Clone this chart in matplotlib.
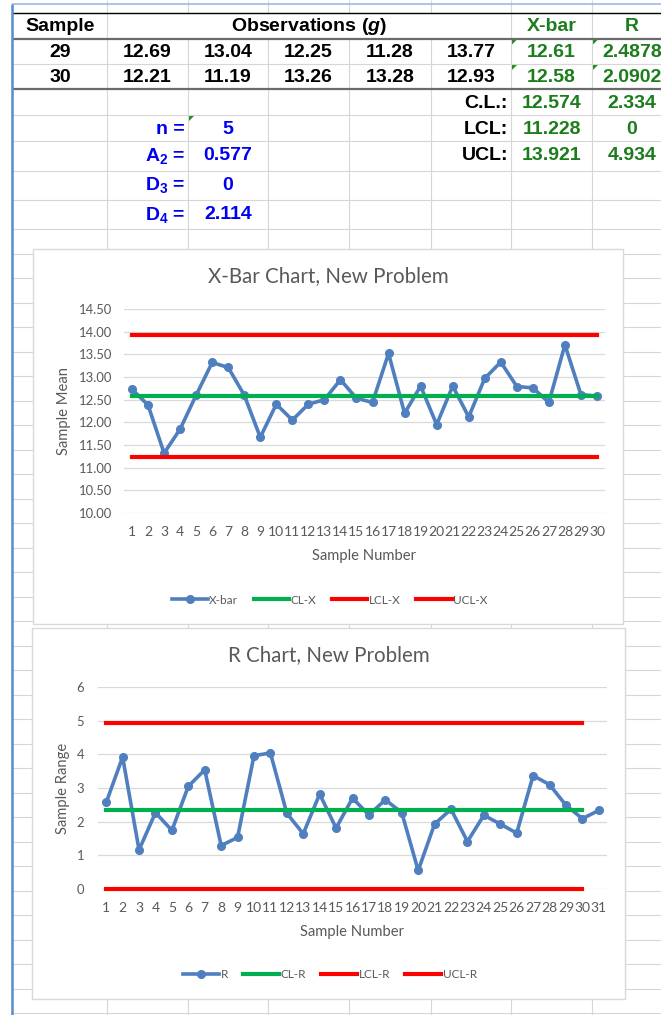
import numpy as np
import matplotlib
matplotlib.use('Agg')
import matplotlib.pyplot as plt
from matplotlib.patches import Rectangle, Polygon

# ---- data ----
samples_x = list(range(1, 31))
xbar = [12.73, 12.38, 11.32, 11.85, 12.60, 13.32, 13.21, 12.60, 11.67, 12.40,
        12.05, 12.40, 12.50, 12.94, 12.53, 12.44, 13.52, 12.20, 12.80, 11.95,
        12.80, 12.12, 12.97, 13.33, 12.79, 12.76, 12.44, 13.71, 12.61, 12.58]
samples_r = list(range(1, 32))
ranges = [2.57, 3.92, 1.16, 2.27, 1.74, 3.05, 3.54, 1.29, 1.53, 3.96,
          4.04, 2.25, 1.64, 2.82, 1.81, 2.70, 2.20, 2.65, 2.27, 0.55,
          1.93, 2.37, 1.41, 2.19, 1.93, 1.66, 3.37, 3.10, 2.4878, 2.0902, 2.334]
xbar_ticks = [10.0, 10.5, 11.0, 11.5, 12.0, 12.5, 13.0, 13.5, 14.0, 14.5]
r_ticks = [0, 1, 2, 3, 4, 5, 6]

cl_x, lcl_x, ucl_x = 12.574, 11.228, 13.921
cl_r, lcl_r, ucl_r = 2.334, 0, 4.934

table_samples = [29, 30]
table_obs = [[12.69, 13.04, 12.25, 11.28, 13.77],
             [12.21, 11.19, 13.26, 13.28, 12.93]]
table_xbar = ['12.61', '12.58']
table_r = ['2.4878', '2.0902']
const_names = ['n =', r'A$_2$ =', r'D$_3$ =', r'D$_4$ =']
const_values = ['5', '0.577', '0', '2.114']

# ---- styling ----
W, H = 661, 1015
plt.rcParams['mathtext.fontset'] = 'custom'
plt.rcParams['mathtext.rm'] = 'Liberation Sans:bold'
plt.rcParams['mathtext.it'] = 'Liberation Sans:italic:bold'
plt.rcParams['mathtext.bf'] = 'Liberation Sans:bold'
plt.rcParams['font.family'] = 'Lato'

blue = '#4F7FBE'
green = '#00B050'
red = '#FF0000'
gray_txt = '#595959'
cell_grid = '#D6D6D6'
sheet_green = '#1B7D1B'
sheet_blue = '#0000F0'

fig = plt.figure(figsize=(W / 100, H / 100), dpi=100)
bg = fig.add_axes([0, 0, 1, 1])
bg.set_xlim(0, W)
bg.set_ylim(H, 0)
bg.axis('off')

# spreadsheet cell grid
cols = [107, 188, 268, 349, 431, 511, 592]
for c in cols:
    if c in (188, 268, 349, 431):
        bg.vlines(c, 0, 12.7, color=cell_grid, lw=0.8)
        bg.vlines(c, 38.7, H, color=cell_grid, lw=0.8)
    else:
        bg.vlines(c, 0, H, color=cell_grid, lw=0.8)
rows = [64, 115, 141, 171, 200] + list(np.arange(229, H, 24.5))
bg.hlines(rows, 12, W, color=cell_grid, lw=0.8)
bg.hlines(12.7, 12, W, color='black', lw=1.0)
bg.hlines([38.7, 89], 12, W, color='#6A6A6A', lw=1.6)
bg.hlines(4, 12, W, color='#9DBBE3', lw=1.2)
bg.vlines(12, 4, H, color='#5B8BD0', lw=1.8)

tk = dict(family='Liberation Sans', fontweight='bold', fontsize=14, va='center')
bg.text(60, 26.5, 'Sample', color='black', ha='center', **tk)
bg.text(309, 26.5, r'Observations ($g$)', color='black', ha='center', **tk)
bg.text(551.5, 26.5, 'X-bar', color=sheet_green, ha='center', **tk)
bg.text(632, 26.5, 'R', color=sheet_green, ha='center', **tk)

obs_cx = [147.5, 228, 308.5, 390, 471]
for row_y, s, obs, xb, rr in zip([52, 77.5], table_samples, table_obs, table_xbar, table_r):
    bg.text(60, row_y, str(s), color='black', ha='center', **tk)
    for cx, v in zip(obs_cx, obs):
        bg.text(cx, row_y, f'{v:.2f}', color='black', ha='center', **tk)
    bg.text(551.5, row_y, xb, color=sheet_green, ha='center', **tk)
    bg.text(632, row_y, rr, color=sheet_green, ha='center', **tk)

for row_y, lab, vx, vr in zip([103, 129, 155.5], ['C.L.:', 'LCL:', 'UCL:'],
                              [cl_x, lcl_x, ucl_x], [cl_r, lcl_r, ucl_r]):
    bg.text(508, row_y, lab, color='black', ha='right', **tk)
    bg.text(551.5, row_y, f'{vx:.3f}', color=sheet_green, ha='center', **tk)
    bg.text(632, row_y, f'{vr:g}', color=sheet_green, ha='center', **tk)

for row_y, name, val in zip([129, 155.5, 185, 214.5], const_names, const_values):
    bg.text(185, row_y, name, color=sheet_blue, ha='right', **tk)
    bg.text(228, row_y, val, color=sheet_blue, ha='center', **tk)

# little green cell markers
for (cx, cy) in [(512, 39.5), (593, 39.5), (512, 65), (593, 65), (189, 116)]:
    bg.add_patch(Polygon([(cx, cy), (cx + 5, cy), (cx, cy + 5)], closed=True,
                         color='#1E8E1E', lw=0))

# chart boxes
bg.add_patch(Rectangle((33, 249), 590, 375, facecolor='white', edgecolor='#D9D9D9', lw=1, zorder=5))
bg.add_patch(Rectangle((32, 628), 593, 371, facecolor='white', edgecolor='#D9D9D9', lw=1, zorder=5))


def px_axes(l, t, r, b):
    return fig.add_axes([l / W, 1 - b / H, (r - l) / W, (b - t) / H])


def style(ax, ypad):
    for sp in ax.spines.values():
        sp.set_visible(False)
    ax.grid(axis='y', color='#D9D9D9', lw=0.9)
    ax.set_axisbelow(True)
    ax.tick_params(length=0, labelcolor=gray_txt)
    ax.tick_params(axis='y', pad=ypad, labelsize=9.4)
    ax.tick_params(axis='x', pad=9, labelsize=10)
    ax.patch.set_alpha(0)
    for ln in ax.get_lines():
        ln.set_clip_on(False)


# X-bar chart
ax1 = px_axes(124, 309, 605, 513)
ax1.plot(samples_x, xbar, color=blue, lw=2.6, marker='o', ms=5.5, label='X-bar')
ax1.plot(samples_x, [cl_x] * len(samples_x), color=green, lw=3, label='CL-X')
ax1.plot(samples_x, [lcl_x] * len(samples_x), color=red, lw=3, label='LCL-X')
ax1.plot(samples_x, [ucl_x] * len(samples_x), color=red, lw=3, label='UCL-X')
ax1.set_xlim(0.5, 30.5)
ax1.set_ylim(10, 14.5)
ax1.set_yticks(xbar_ticks)
ax1.set_yticklabels([f'{t:.2f}' for t in xbar_ticks])
ax1.set_xticks(samples_x)
ax1.set_xticklabels([str(s) for s in samples_x])
style(ax1, 8.5)
ax1.legend(loc='center', bbox_to_anchor=(330 / W, 1 - 600 / H), bbox_transform=fig.transFigure,
           ncol=4, frameon=False, fontsize=8.5, labelcolor=gray_txt, handlelength=3,
           handletextpad=0.15, columnspacing=1.3)

bg.text(328, 276, 'X-Bar Chart, New Problem', ha='center', va='center', fontsize=14.8, color=gray_txt, zorder=6)
bg.text(64, 411, 'Sample Mean', rotation=90, ha='center', va='center', fontsize=10.6, color=gray_txt, zorder=6)
bg.text(364.5, 556, 'Sample Number', ha='center', va='center', fontsize=10.6, color=gray_txt, zorder=6)

# R chart
ax2 = px_axes(98, 687, 607, 889)
ax2.plot(samples_r, ranges, color=blue, lw=2.6, marker='o', ms=5.5, label='R')
ax2.plot(samples_x, [cl_r] * len(samples_x), color=green, lw=3, label='CL-R')
ax2.plot(samples_x, [lcl_r] * len(samples_x), color=red, lw=3, label='LCL-R')
ax2.plot(samples_x, [ucl_r] * len(samples_x), color=red, lw=3, label='UCL-R')
ax2.set_xlim(0.5, 31.5)
ax2.set_ylim(0, 6)
ax2.set_yticks(r_ticks)
ax2.set_xticks(samples_r)
ax2.set_xticklabels([str(s) for s in samples_r])
style(ax2, 10)
ax2.legend(loc='center', bbox_to_anchor=(330 / W, 1 - 975 / H), bbox_transform=fig.transFigure,
           ncol=4, frameon=False, fontsize=8.5, labelcolor=gray_txt, handlelength=3,
           handletextpad=0.15, columnspacing=1.3)

bg.text(328.5, 655, 'R Chart, New Problem', ha='center', va='center', fontsize=14.8, color=gray_txt, zorder=6)
bg.text(63, 788, 'Sample Range', rotation=90, ha='center', va='center', fontsize=10.6, color=gray_txt, zorder=6)
bg.text(352, 932, 'Sample Number', ha='center', va='center', fontsize=10.6, color=gray_txt, zorder=6)

fig.savefig('out.png', dpi=100)
